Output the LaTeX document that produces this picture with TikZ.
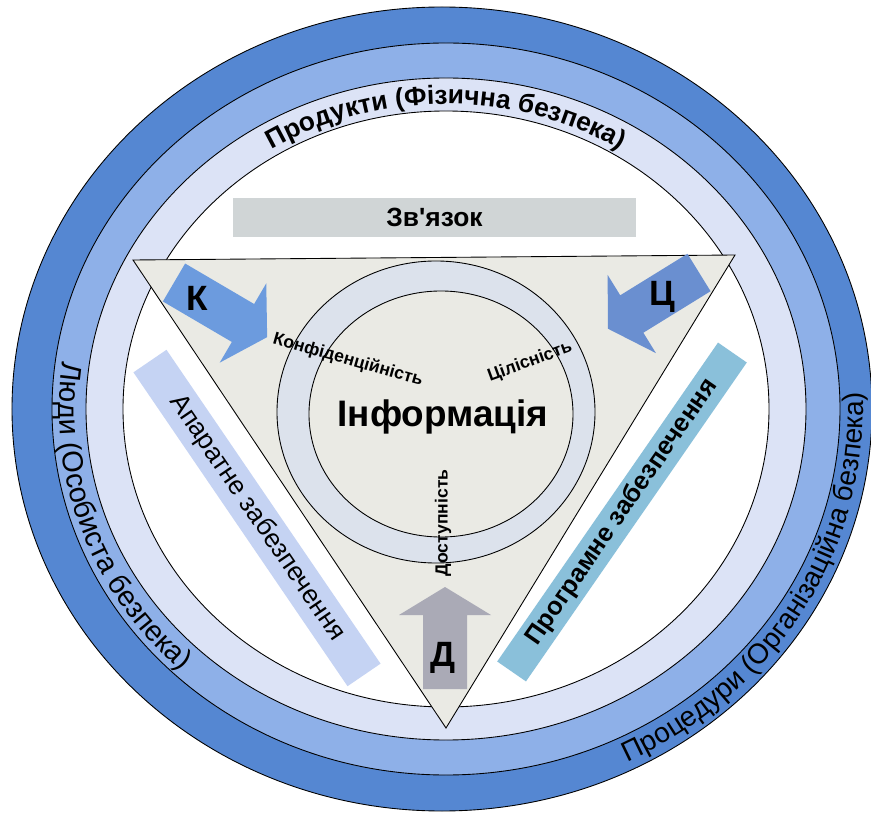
\documentclass[tikz,border=0pt]{standalone}
\usepackage{fontspec}
\setmainfont{Liberation Sans}
\usetikzlibrary{decorations.text}

\definecolor{ringdark}{RGB}{85,135,210}
\definecolor{ringlight}{RGB}{142,176,232}
\definecolor{ringpale}{RGB}{220,227,246}
\definecolor{trifill}{RGB}{234,234,228}
\definecolor{ciaring}{RGB}{220,226,236}
\definecolor{zvcol}{RGB}{208,213,214}
\definecolor{aparatcol}{RGB}{197,211,243}
\definecolor{progcol}{RGB}{138,192,218}
\definecolor{karrow}{RGB}{108,155,222}
\definecolor{tsarrow}{RGB}{106,143,208}
\definecolor{darrow}{RGB}{170,170,182}

\tikzset{
  ringline/.style={draw=black, line width=0.5pt},
  bar/.style={inner sep=0pt, text=black},
  letter/.style={font=\fontsize{20}{22}\selectfont\bfseries},
  cia/.style={inner sep=1pt, font=\fontsize{10}{12}\selectfont\bfseries}
}

\newcommand{\ciaarrow}[4]{\fill[#4, shift={#1}, rotate=#2] (0,-22) -- (#3,-22) -- (#3,-46) -- ({#3+28},0) -- (#3,46) -- (#3,22) -- (0,22) -- cycle;}

\begin{document}
\begin{tikzpicture}[x=0.02cm, y=0.02cm]
\useasboundingbox (-446,-405) rectangle (425,409);

\draw[ringline, fill=ringdark] (-4,0) ellipse [x radius=430, y radius=402];
\draw[ringline, fill=ringlight] (0,0) ellipse [x radius=394, y radius=366];
\draw[ringline, fill=ringpale] (0,0) ellipse [x radius=360, y radius=331];
\draw[ringline, fill=white] (0,0) ellipse [x radius=323, y radius=298];

\path[decorate, decoration={text along path, text align=center,
  text={|\fontsize{15}{17}\selectfont\bfseries|Продукти (Фізична безпека)}}]
  (150:332 and 305) arc[start angle=150, end angle=30, x radius=332, y radius=305];
\path[decorate, decoration={text along path, text align=center,
  text={|\fontsize{16.5}{19}\selectfont|Люди (Особиста безпека)}}]
  (144:387 and 359) arc[start angle=144, end angle=254, x radius=387, y radius=359];
\path[decorate, decoration={text along path, text align=center,
  text={|\fontsize{16}{19}\selectfont|Процедури (Організаційна безпека)}}]
  (-97:417 and 392) arc[start angle=-97, end angle=37, x radius=417, y radius=392];

\node[bar, fill=aparatcol, rotate=-55.7, minimum width=7.6cm, minimum height=0.8cm,
  font=\fontsize{15}{17}\selectfont] (aparat) at (-189,-109) {Апаратне забезпечення};
\node[bar, fill=progcol, rotate=55.3, minimum width=7.76cm, minimum height=0.7cm,
  font=\fontsize{14.5}{16}\selectfont\bfseries] (prog) at (176,-103) {Програмне забезпечення};
\node[bar, fill=zvcol, minimum width=8.06cm, minimum height=0.78cm,
  font=\fontsize{15}{17}\selectfont\bfseries] (zv) at (-11.5,191.5) {Зв\textquotesingle язок};

\draw[ringline, fill=trifill] (-313,149) -- (289,154) -- (0,-319) -- cycle;

\draw[ringline, fill=ciaring] (-10,-3) ellipse [x radius=159, y radius=151];
\draw[ringline, fill=trifill] (-5,-5) ellipse [x radius=132, y radius=123];

\ciaarrow{(-272,126.5)}{-30.4}{80}{karrow}
\ciaarrow{(253,136.5)}{-148.3}{79}{tsarrow}
\ciaarrow{(-1,-280)}{90}{74}{darrow}

\node[letter] (kLet) at (-249,111) {К};
\node[letter] (tsLet) at (216,112) {Ц};
\node[letter] (dLet) at (-3,-249) {Д};

\node[font=\fontsize{21}{25}\selectfont\bfseries] (info) at (-3,-8) {Інформація};
\node[cia, rotate=-16] (konf) at (-98,49) {Конфіденційність};
\node[cia, rotate=20] (tsil) at (84,47) {Цілісність};
\node[cia, rotate=90] (dost) at (-3,-114) {Доступність};
\end{tikzpicture}
\end{document}
